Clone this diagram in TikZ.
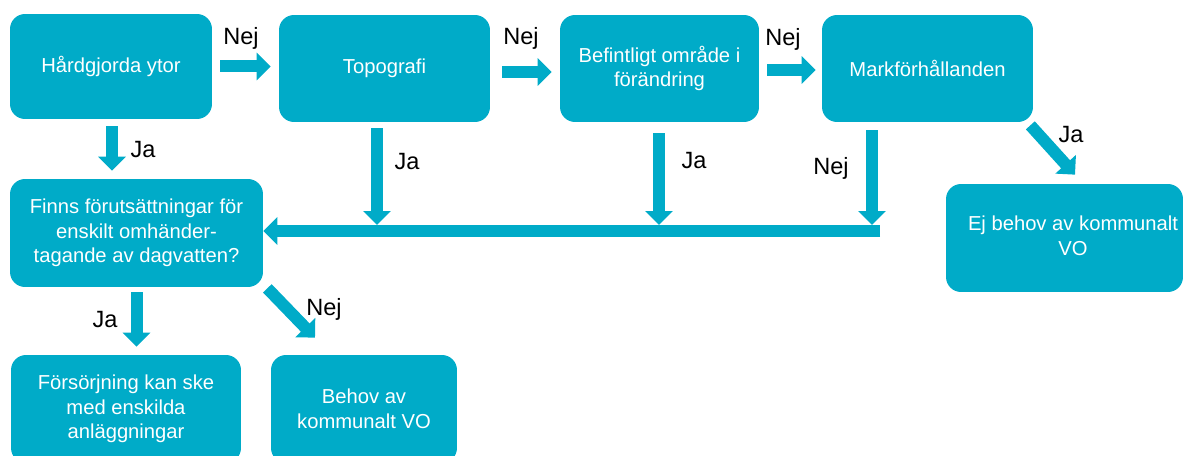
\documentclass[tikz,border=0pt]{standalone}
\usepackage{fontspec}
\setmainfont{Liberation Sans}
\usepackage{xcolor}
\usetikzlibrary{arrows.meta,positioning}
\definecolor{flowteal}{HTML}{00ABC8}

\begin{document}
\begin{tikzpicture}[
    x=0.02cm, y=-0.02cm,
    box/.style={fill=flowteal, text=white, rounded corners=0.3cm, align=center, inner sep=0pt,
        font=\fontsize{11.5}{14}\selectfont},
    flow/.style={draw=flowteal, line width=0.24cm, -{Triangle[length=0.28cm,width=0.54cm]}},
    lbl/.style={text=black, inner sep=1pt, font=\fontsize{13.4}{16}\selectfont},
]
    \useasboundingbox (0,0) rectangle (1187,456);
    \clip (0,0) rectangle (1187,456);

    % Top row
    \node[box, minimum width=4.04cm, minimum height=2.1cm] (hard) at (111,66.5) {Hårdgjorda ytor};
    \node[box, minimum width=4.22cm, minimum height=2.14cm] (topo) at (384.5,68.5) {Topografi};
    \node[box, minimum width=3.98cm, minimum height=2.14cm] (befint) at (659.5,68.5) {Befintligt område i\\förändring};
    \node[box, minimum width=4.22cm, minimum height=2.14cm] (mark) at (927.5,68.5) {Markförhållanden};

    % Middle row
    \node[box, minimum width=5.06cm, minimum height=2.16cm] (finns) at (136.5,233) {Finns förutsättningar för\\enskilt omhänder-\\tagande av dagvatten?};
    \node[box, minimum width=4.74cm, minimum height=2.16cm] (ejbehov) at (1064.5,238)
        {\hspace*{0.34cm}\begin{tabular}{@{}c@{}}Ej behov av kommunalt\\VO\end{tabular}};

    % Bottom row
    \node[box, minimum width=4.6cm, minimum height=2.16cm] (fors) at (126,409) {Försörjning kan ske\\med enskilda\\anläggningar};
    \node[box, minimum width=3.72cm, minimum height=2.16cm] (behov) at (364,409) {Behov av\\kommunalt VO};

    % Collecting bar
    \coordinate (barend) at (880,231);
    \coordinate (j1) at (377,225);
    \coordinate (j2) at (659,225);
    \coordinate (j3) at (872,225);

    % Arrows along the top
    \draw[flow, shorten <=0.16cm, shorten >=0.16cm] (hard.east) -- (hard.east -| topo.west);
    \draw[flow, shorten <=0.24cm, shorten >=0.16cm] ([yshift=-0.07cm]topo.east) -- ([yshift=-0.07cm]befint.west);
    \draw[flow, shorten <=0.16cm, shorten >=0.12cm] ([yshift=-0.03cm]befint.east) -- ([yshift=-0.03cm]mark.west);

    % Arrows down to the bar
    \draw[flow, shorten <=0.14cm, shorten >=0.16cm] ([xshift=0.02cm]hard.south) -- ([xshift=0.02cm]hard.south |- finns.north);
    \draw[flow, shorten <=0.12cm] (topo.south -| j1) -- (j1);
    \draw[flow, shorten <=0.22cm] (befint.south -| j2) -- (j2);
    \draw[flow, shorten <=0.16cm] (mark.south -| j3) -- (j3);
    \draw[flow] (barend) -- (barend -| finns.east);

    % Arrows from the question and to the right box
    \draw[flow] ([shift={(-3,3)}]mark.south east) -- ([shift={(10.5,-9)}]ejbehov.north);
    \draw[flow, shorten <=0.1cm, shorten >=0.16cm] (finns.south) -- (finns.south |- fors.north);
    \draw[flow] ([shift={(4,1)}]finns.south east) -- ([shift={(-49,-17)}]behov.north);

    % Labels
    \node[lbl] (nej1) at (241,38) {Nej};
    \node[lbl] (nej2) at (521,38) {Nej};
    \node[lbl] (nej3) at (783,39) {Nej};
    \node[lbl] (ja1) at (143,150) {Ja};
    \node[lbl] (ja2) at (407,162) {Ja};
    \node[lbl] (ja3) at (694,161) {Ja};
    \node[lbl] (nej4) at (831,168) {Nej};
    \node[lbl] (ja4) at (1071,135) {Ja};
    \node[lbl] (ja5) at (105,320) {Ja};
    \node[lbl] (nej5) at (324,309) {Nej};
\end{tikzpicture}
\end{document}
